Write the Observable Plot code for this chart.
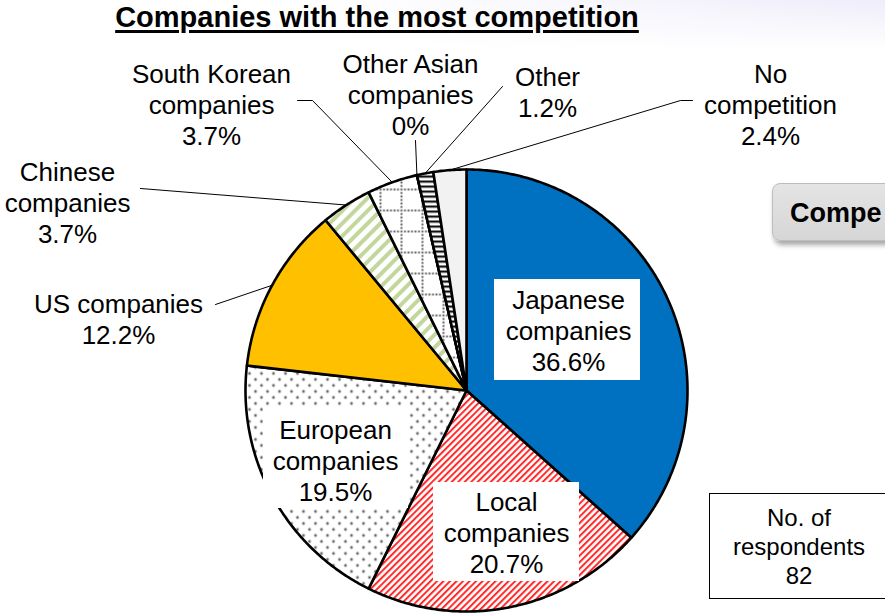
<!DOCTYPE html>
<html>
<head>
<meta charset="utf-8">
<script src="https://cdn.jsdelivr.net/npm/d3@7"></script>
<script src="https://cdn.jsdelivr.net/npm/@observablehq/plot@0.6"></script>
<style>
  html, body { margin: 0; padding: 0; }
  body {
    width: 885px; height: 613px; overflow: hidden; position: relative;
    font-family: "Liberation Sans", Arial, sans-serif;
    background-color: #fff;
    background-image: linear-gradient(to bottom, rgba(255,255,255,0) 0px, #fff 50px),
                      linear-gradient(90deg, #fff 0%, #fff 35%, #eeedfa 100%);
    background-repeat: no-repeat;
  }
  #title {
    position: absolute; left: 0; top: 0; width: 754px; text-align: center;
    font-size: 29px; font-weight: bold; line-height: 34px; color: #000;
    text-decoration: underline; text-decoration-thickness: 2.5px; text-underline-offset: 3px;
  }
  #chart { position: absolute; left: 0; top: 40px; }
  #compbox {
    position: absolute; left: 772px; top: 183px; width: 160px; height: 58px;
    border-radius: 8px; border: 1px solid #bdbdbd;
    background: linear-gradient(to bottom, #e4e4e4, #d6d6d6);
    box-shadow: 2px 4px 5px rgba(0,0,0,0.35);
    font-weight: bold; font-size: 27px; line-height: 58px; padding-left: 17px; box-sizing: border-box;
    white-space: nowrap; color: #000;
  }
  #resp {
    position: absolute; left: 709px; top: 493px; width: 180px; height: 106px;
    border: 1.5px solid #000; box-sizing: border-box; background: #fff;
    text-align: center; font-size: 24px; line-height: 29px; padding-top: 9px; color: #000;
  }
</style>
</head>
<body>
<div id="title"></div>
<div id="chart"></div>
<div id="compbox"></div>
<div id="resp"></div>
<script>
// ---------- data ----------
const title = "Companies with the most competition";
const categories = ["Japanese companies", "Local companies", "European companies", "US companies",
  "Chinese companies", "South Korean companies", "Other Asian companies", "Other", "No competition"];
const shares = [36.6, 20.7, 19.5, 12.2, 3.7, 3.7, 0, 1.2, 2.4];
const labelLines = [["Japanese", "companies"], ["Local", "companies"], ["European", "companies"],
  ["US companies"], ["Chinese", "companies"], ["South Korean", "companies"],
  ["Other Asian", "companies"], ["Other"], ["No", "competition"]];
const respondentsLabel = ["No. of", "respondents"];
const respondents = 82;
const sideBoxText = "Compe";

// ---------- styles / layout (page pixels) ----------
const fills = ["#0070C0", "url(#pLocal)", "url(#pEuro)", "#FFC000", "url(#pChina)",
  "url(#pKorea)", "none", "url(#pOther)", "#F2F2F2"];
const CX = 466, CY = 390, R = 221, SVG_TOP = 40, W = 885, H = 573;
const labelPos = [[568, 330], [506, 532], [335, 460], [118, 318], [67, 202], [211, 104], [410, 94], [547, 91], [770, 104]];
const labelBoxes = {0: [494, 279, 640, 380], 1: [433, 482, 579, 581], 2: [263, 407, 408, 508]};
const leaderOuter = {3: [[215, 304]], 4: [[140, 188]], 5: [[297, 100], [312, 100]], 6: [[415, 140]],
  7: [[502, 86]], 8: [[692, 100], [680, 100]]};

const ux = px => (px - CX) / R;
const uy = py => (CY - py) / R;

document.getElementById("title").textContent = title;
document.getElementById("compbox").textContent = sideBoxText;
document.getElementById("resp").innerHTML = respondentsLabel.join("<br>") + "<br>" + respondents;

// ---------- slice geometry ----------
const slicePts = [];
const midAngle = [];
let cum = 0;
categories.forEach((name, i) => {
  const a0 = cum / 100 * 2 * Math.PI;
  cum += shares[i];
  const a1 = cum / 100 * 2 * Math.PI;
  midAngle.push((a0 + a1) / 2);
  slicePts.push({name, x: 0, y: 0});
  const steps = Math.max(1, Math.ceil((a1 - a0) / 0.01));
  for (let k = 0; k <= steps; k++) {
    const a = a0 + (a1 - a0) * k / steps;
    slicePts.push({name, x: Math.sin(a), y: Math.cos(a)});
  }
  slicePts.push({name, x: 0, y: 0});
});

const fmt = v => (v === 0 ? "0" : v.toFixed(1)) + "%";
const labels = categories.map((name, i) => ({
  name, x: ux(labelPos[i][0]), y: uy(labelPos[i][1]),
  text: labelLines[i].concat([fmt(shares[i])]).join("\n")
}));
const boxes = Object.entries(labelBoxes).map(([i, b]) => ({
  name: categories[i], x1: ux(b[0]), x2: ux(b[2]), y1: uy(b[1]), y2: uy(b[3])
}));
const leaders = [];
Object.entries(leaderOuter).forEach(([i, pts]) => {
  pts.forEach(p => leaders.push({name: categories[i], x: ux(p[0]), y: uy(p[1])}));
  leaders.push({name: categories[i], x: Math.sin(midAngle[i]), y: Math.cos(midAngle[i])});
});

const sliceMarks = categories.map((name, i) =>
  Plot.line(slicePts.filter(p => p.name === name), {
    x: "x", y: "y", fill: fills[i], stroke: "#000", strokeWidth: 2.6, strokeLinejoin: "round"
  }));

const chart = Plot.plot({
  width: W, height: H, margin: 0,
  x: {domain: [ux(0), ux(W)], axis: null},
  y: {domain: [uy(SVG_TOP + H), uy(SVG_TOP)], axis: null},
  style: {background: "transparent", fontFamily: "'Liberation Sans', Arial, sans-serif", overflow: "visible"},
  marks: [
    ...sliceMarks,
    Plot.rect(boxes, {x1: "x1", x2: "x2", y1: "y1", y2: "y2", fill: "#fff"}),
    Plot.line(leaders, {x: "x", y: "y", z: "name", stroke: "#000", strokeWidth: 1}),
    Plot.text(labels, {x: "x", y: "y", text: "text", fontSize: 26, lineHeight: 1.19, fill: "#000"})
  ]
});

// pattern definitions
const defs = d3.select(chart).insert("defs", ":first-child");
const pl = defs.append("pattern").attr("id", "pLocal").attr("patternUnits", "userSpaceOnUse")
  .attr("width", 4.6).attr("height", 4.6).attr("patternTransform", "rotate(45)");
pl.append("rect").attr("width", 4.6).attr("height", 4.6).attr("fill", "#fff");
pl.append("rect").attr("width", 2).attr("height", 4.6).attr("fill", "#ff2a2a");

const pc = defs.append("pattern").attr("id", "pChina").attr("patternUnits", "userSpaceOnUse")
  .attr("width", 9).attr("height", 9).attr("patternTransform", "rotate(45)");
pc.append("rect").attr("width", 9).attr("height", 9).attr("fill", "#fff");
pc.append("rect").attr("width", 4).attr("height", 9).attr("fill", "#c3d69b");

const pe = defs.append("pattern").attr("id", "pEuro").attr("patternUnits", "userSpaceOnUse")
  .attr("width", 12).attr("height", 12);
pe.append("rect").attr("width", 12).attr("height", 12).attr("fill", "#fff");
pe.append("circle").attr("cx", 3).attr("cy", 3).attr("r", 1.4).attr("fill", "#666");
pe.append("circle").attr("cx", 9).attr("cy", 9).attr("r", 1.4).attr("fill", "#666");

const pk = defs.append("pattern").attr("id", "pKorea").attr("patternUnits", "userSpaceOnUse")
  .attr("width", 21).attr("height", 21);
pk.append("rect").attr("width", 21).attr("height", 21).attr("fill", "#fff");
for (let k = 0; k < 6; k++) {
  pk.append("circle").attr("cx", 2 + k * 3.5).attr("cy", 2).attr("r", 1.05).attr("fill", "#444");
  if (k > 0) pk.append("circle").attr("cx", 2).attr("cy", 2 + k * 3.5).attr("r", 1.05).attr("fill", "#444");
}

const po = defs.append("pattern").attr("id", "pOther").attr("patternUnits", "userSpaceOnUse")
  .attr("width", 5).attr("height", 5);
po.append("rect").attr("width", 5).attr("height", 5).attr("fill", "#fff");
po.append("rect").attr("width", 5).attr("height", 2.2).attr("fill", "#111");

document.getElementById("chart").append(chart);
</script>
</body>
</html>
